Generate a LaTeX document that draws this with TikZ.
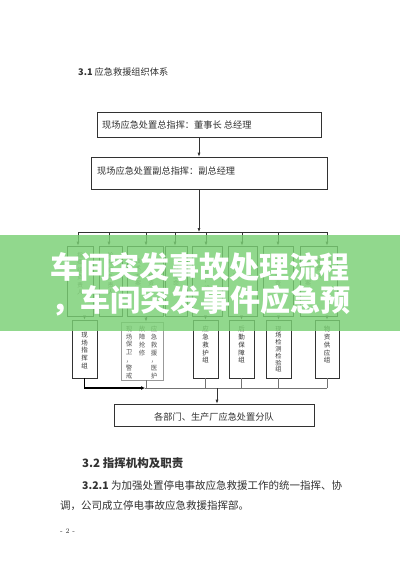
\documentclass[tikz,border=0pt]{standalone}
\usepackage{fontspec}
\newfontfamily\cjk{Noto Sans CJK SC}
\usetikzlibrary{arrows.meta}
\definecolor{bannergreen}{RGB}{122,208,116}
\definecolor{inkc}{RGB}{50,50,50}
\begin{document}
\begin{tikzpicture}[x=1pt,y=-1pt,
  box/.style={draw=inkc, line width=0.6pt, inner sep=0pt},
  greybox/.style={draw=black!40, line width=0.6pt, inner sep=0pt},
  arr/.style={-{Latex[length=4pt,width=3pt]}, line width=0.6pt, draw=inkc},
  ln/.style={line width=0.6pt, draw=inkc},
  gln/.style={line width=1pt, draw=black!55},
  vtxt/.style={font=\cjk\fontsize{6.5}{7.8}\selectfont, align=center, inner sep=0pt, anchor=north, text=inkc},
  mtxt/.style={font=\cjk\fontsize{6}{7.5}\selectfont, align=center, inner sep=0pt, anchor=north, text=black!55},
  htxt/.style={font=\cjk\fontsize{9.2}{9.2}\selectfont, inner sep=0pt, anchor=west, text=inkc},
  body/.style={font=\cjk\fontsize{10.5}{10.5}\selectfont, inner sep=0pt, anchor=west, text=inkc},
]
\useasboundingbox (0,0) rectangle (400,566);
\fill[white] (0,0) rectangle (400,566);

% title
\node[htxt] (t31) at (78,72) {\textbf{3.1} 应急救援组织体系};

% top boxes
\node[box, minimum width=224pt, minimum height=25pt] (b1) at (209,124.5) {};
\node[htxt] (b1t) at (102,125) {现场应急处置总指挥：董事长 总经理};
\node[box, minimum width=236pt, minimum height=32pt] (b2) at (209,173) {};
\node[htxt] (b2t) at (97,171) {现场应急处置副总指挥：副总经理};

\coordinate (ax) at (199,0);
\draw[arr] (b1.south -| ax) -- (b2.north -| ax);

% bus 1
\coordinate (busL) at (78,232);
\coordinate (busR) at (327,232);
\draw[ln] (busL) -- (busR);
\draw[arr] (b2.south -| ax) -- (busL -| ax);

% middle boxes
\node[box, minimum width=26pt, minimum height=70pt] (m1) at (80,281) {};
\node[box, minimum width=23pt, minimum height=70pt] (m2) at (110.5,281) {};
\node[box, minimum width=36pt, minimum height=70pt] (m3) at (145,281) {};
\node[box, minimum width=22pt, minimum height=70pt] (m4) at (176,281) {};
\node[box, minimum width=30pt, minimum height=70pt] (m5) at (207,281) {};
\node[box, minimum width=29pt, minimum height=70pt] (m6) at (242.5,281) {};
\node[box, minimum width=30pt, minimum height=70pt] (m7) at (278,281) {};
\node[box, minimum width=37pt, minimum height=70pt] (m8) at (318.5,281) {};

\node[mtxt] (m1t) at (80,252) {指\\挥\\组\\负\\责\\人};
\node[mtxt] (m2t) at (110.5,252) {抢\\险\\组\\负\\责\\人};
\node[mtxt] (m3a) at (138,258) {技\\术\\方\\案};
\node[mtxt] (m3b) at (151,258) {负\\责\\物\\资};
\node[mtxt] (m4t) at (176,258) {抢\\救\\生\\命};
\node[mtxt] (m5t) at (207,255) {救\\援\\队\\，\\设\\备};
\node[mtxt] (m6a) at (236,258) {消\\防\\队};
\node[mtxt] (m6b) at (249,258) {专\\家\\组};
\node[mtxt] (m7t) at (278,258) {负\\责\\检\\查};
\node[mtxt] (m8a) at (308,258) {制\\定\\方\\案};
\node[mtxt] (m8b) at (319,258) {负\\责\\人};
\node[mtxt] (m8c) at (330,258) {负\\责};

% drops from bus
\foreach \n/\x in {m1/78,m2/109,m3/146,m4/175,m5/206,m6/242,m7/278,m8/327}{
  \draw[arr] (\x,232) -- (\x,0 |- \n.north);
}

% lower boxes
\node[box, minimum width=25pt, minimum height=58pt] (l1) at (84.5,349) {};
\node[greybox, minimum width=42pt, minimum height=58pt] (l2) at (142,351) {};
\node[box, minimum width=25pt, minimum height=58pt] (l3) at (205.5,349) {};
\node[box, minimum width=25pt, minimum height=58pt] (l4) at (241.5,349) {};
\node[box, minimum width=25pt, minimum height=58pt] (l5) at (278.5,349) {};
\node[box, minimum width=24pt, minimum height=58pt] (l6) at (327,349) {};

\node[vtxt] (l1t) at (84.5,332) {现\\场\\指\\挥\\组};
\node[vtxt, text=black!65] (l2a) at (129,326) {现\\场\\保\\卫\\，\\警\\戒};
\node[vtxt, text=black!65] (l2b) at (142,326) {故\\障\\抢\\修};
\node[vtxt, text=black!65] (l2c) at (154,326) {应\\急\\救\\援\\，\\医\\护};
\node[vtxt] (l3t) at (205.5,326) {应\\急\\救\\护\\组};
\node[vtxt] (l4t) at (241.5,326) {后\\勤\\保\\障\\组};
\node[vtxt, font=\cjk\fontsize{6.2}{6.8}\selectfont] (l5t) at (278.5,326) {现\\场\\检\\测\\检\\验\\组};
\node[vtxt] (l6t) at (327,326) {物\\资\\供\\应\\组};

% middle -> lower arrows
\draw[arr] (l1.north |- m1.south) -- (l1.north);
\draw[arr] (146,0 |- m3.south) -- (146,0 |- l2.north);
\draw[arr] (l3.north |- m5.south) -- (l3.north);
\draw[arr] (l4.north |- m6.south) -- (l4.north);
\draw[arr] (l5.north |- m7.south) -- (l5.north);
\draw[arr] (l6.north |- m8.south) -- (l6.north);

% bottom bus
\coordinate (bus2L) at (145,388);
\coordinate (bus2R) at (327,388);
\draw[gln] (bus2L) -- (bus2R);
\draw[gln] (146,0 |- l2.south) -- (146,388);
\foreach \n in {l3,l4,l5,l6}{
  \draw[gln] (\n.south) -- (\n.south |- bus2L);
}
\draw[line width=1.6pt, draw=black, -{Latex[length=4pt,width=4pt]}] (l1.south) -- (l1.south |- bus2L) -- (bus2L);

% bottom box
\node[box, minimum width=200pt, minimum height=22pt] (bb) at (214,415) {};
\node[font=\cjk\fontsize{9.2}{9.2}\selectfont, text=inkc, inner sep=0pt] (bbt) at (214,417) {各部门、生产厂应急处置分队};
\draw[arr] (217,388) -- (217,0 |- bb.north);

% banner
\fill[bannergreen, fill opacity=0.82] (0,235) rectangle (400,331);
\node[font=\cjk\bfseries\fontsize{30}{30}\selectfont, text=white, inner sep=0pt] (ban1) at (200,267) {车间突发事故处理流程};
\node[font=\cjk\bfseries\fontsize{30}{30}\selectfont, text=white, inner sep=0pt] (ban2) at (201,301) {，车间突发事件应急预};

% body text
\node[font=\cjk\bfseries\fontsize{11.5}{11.5}\selectfont, inner sep=0pt, anchor=west, text=inkc] (t32) at (82,463) {\textbf{3.2} 指挥机构及职责};
\node[body] (p1) at (82,486) {\textbf{3.2.1} 为加强处置停电事故应急救援工作的统一指挥、协};
\node[body] (p2) at (60,506) {调，公司成立停电事故应急救援指挥部。};
\node[font=\fontsize{7}{7}\selectfont, inner sep=0pt, anchor=west, text=inkc] (pg) at (60,531) {- 2 -};
\end{tikzpicture}
\end{document}
